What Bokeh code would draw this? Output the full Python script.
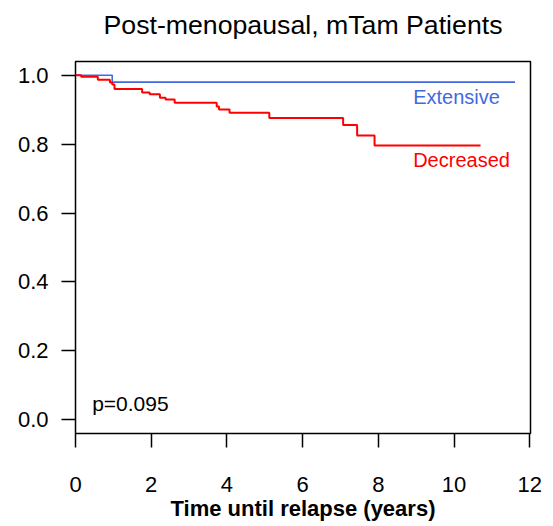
from bokeh.plotting import figure
from bokeh.models import Range1d, FixedTicker, PrintfTickFormatter, LinearAxis
from bokeh.core.properties import value
from bokeh.embed import file_html
from bokeh.resources import INLINE

# Kaplan-Meier data
decreased_time = [0, 0.15, 0.59, 0.91, 0.97, 1.03, 1.76, 1.96, 2.23, 2.38, 2.62,
                  3.73, 3.79, 4.07, 5.12, 7.07, 7.44, 7.90, 10.70]
decreased_surv = [1.0, 0.996, 0.987, 0.979, 0.973, 0.960, 0.950, 0.945, 0.935, 0.930, 0.920,
                  0.909, 0.901, 0.891, 0.876, 0.856, 0.825, 0.796, 0.796]
extensive_time = [0, 0.97, 11.61]
extensive_surv = [1.0, 0.980, 0.980]

x_ticks = [0, 2, 4, 6, 8, 10, 12]
y_ticks = [0.0, 0.2, 0.4, 0.6, 0.8, 1.0]

title_text = "Post-menopausal, mTam Patients"
x_label = "Time until relapse (years)"
p_text = "p=0.095"
label_ext = "Extensive"
label_dec = "Decreased"

FONT = "Liberation Sans"
BLUE = "#4169E1"
RED = "#FF0000"

W, H = 553, 526
p = figure(width=W, height=H, output_backend="svg", toolbar_location=None,
           x_range=Range1d(0, 12.02), y_range=Range1d(-0.04, 1.04),
           min_border_left=75, min_border_right=23, min_border_top=61,
           min_border_bottom=93)

p.background_fill_color = "white"
p.border_fill_color = "white"
p.outline_line_color = "black"
p.outline_line_width = 1.5
p.xgrid.visible = False
p.ygrid.visible = False

for ax in (p.xaxis[0], p.yaxis[0]):
    ax.axis_line_color = None
    ax.major_tick_in = 0
    ax.major_tick_line_color = "black"
    ax.major_tick_line_width = 1.5
    ax.minor_tick_line_color = None
    ax.major_label_text_font = FONT
    ax.major_label_text_font_size = "22px"
    ax.major_label_text_color = "black"

p.xaxis.ticker = FixedTicker(ticks=x_ticks)
p.xaxis.major_tick_out = 14
p.xaxis.major_label_standoff = 29
p.xaxis.axis_label = x_label
p.xaxis.axis_label_text_font = FONT
p.xaxis.axis_label_text_font_size = "22px"
p.xaxis.axis_label_text_font_style = "bold"
p.xaxis.axis_label_text_color = "black"
p.xaxis.axis_label_standoff = 1

p.yaxis.ticker = FixedTicker(ticks=y_ticks)
p.yaxis.formatter = PrintfTickFormatter(format="%.1f")
p.yaxis.major_tick_out = 14
p.yaxis.major_label_standoff = 13

# chart title: carried by a tick-less axis above the frame
title_axis = LinearAxis(ticker=FixedTicker(ticks=[]), axis_label=title_text,
                        axis_line_color=None, major_tick_line_color=None,
                        minor_tick_line_color=None, major_label_text_font_size="0px",
                        major_tick_out=0, major_tick_in=0, minor_tick_out=0,
                        axis_label_text_font=FONT, axis_label_text_font_size="26.7px",
                        axis_label_text_font_style="normal", axis_label_text_color="black",
                        axis_label_standoff=22)
p.add_layout(title_axis, "above")

p.step(extensive_time, extensive_surv, mode="after", line_color=BLUE, line_width=1.6)
p.step(decreased_time, decreased_surv, mode="after", line_color=RED, line_width=2)

p.text(x=[8.92], y=[0.936], text=[label_ext], text_color=BLUE,
       text_font=value(FONT), text_font_size="20px", text_baseline="middle", text_align="left")
p.text(x=[8.92], y=[0.753], text=[label_dec], text_color=RED,
       text_font=value(FONT), text_font_size="20px", text_baseline="middle", text_align="left")
p.text(x=[0.44], y=[0.047], text=[p_text], text_color="black",
       text_font=value(FONT), text_font_size="21px", text_baseline="middle", text_align="left")

open("out.html", "w").write(file_html(p, INLINE))
